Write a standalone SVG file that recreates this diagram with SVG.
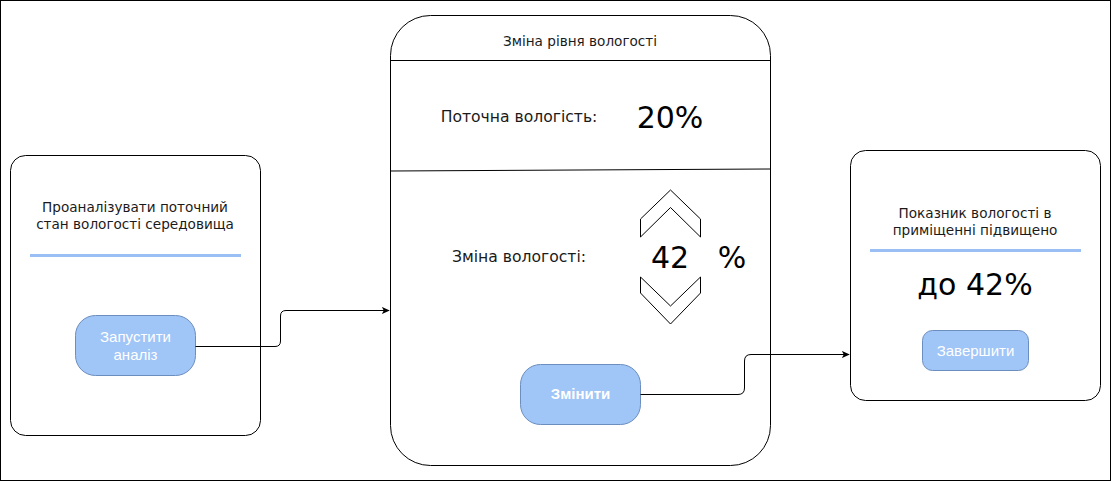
<svg xmlns="http://www.w3.org/2000/svg" width="1111" height="481" viewBox="0 0 1111 481">
<style>
.card{fill:#fff;stroke:#000;stroke-width:1}
.btn{fill:#a0c5f7;stroke:#6c8ebf;stroke-width:1}
.lbl{font-family:"DejaVu Sans",Verdana,sans-serif;fill:#1a1a1a;text-anchor:middle}
.big{font-family:"DejaVu Sans",Verdana,sans-serif;fill:#000;font-size:30px;text-anchor:middle}
.bt{font-family:"Liberation Sans",Arial,sans-serif;fill:#fff;font-size:15px;text-anchor:middle}
.sep{stroke:#99bff5;stroke-width:3}
.conn{fill:none;stroke:#000;stroke-width:1}
.chev{fill:#fff;stroke:#000;stroke-width:1}
</style>
<defs>
<marker id="arr" viewBox="0 0 10 10" refX="9" refY="5" markerWidth="8" markerHeight="8" orient="auto" markerUnits="userSpaceOnUse">
<path d="M0,0.5 L10,5 L0,9.5 L2.5,5 Z" fill="#000"/>
</marker>
</defs>
<rect x="0.5" y="0.5" width="1110" height="480" fill="#fff" stroke="#000"/>
<g id="start-card">
<rect class="card" x="10.5" y="155.5" width="250" height="280" rx="15"/>
<text class="lbl" font-size="13.6" x="135" y="212">Проаналізувати поточний</text>
<text class="lbl" font-size="13.6" x="135" y="229">стан вологості середовища</text>
<line class="sep" x1="30" y1="255.5" x2="241" y2="255.5"/>
</g>
<g id="start-btn">
<rect class="btn" x="75.5" y="315.5" width="120" height="60" rx="20"/>
<text class="bt" x="135.5" y="342">Запустити</text>
<text class="bt" x="135.5" y="360">аналіз</text>
</g>
<g id="main-card">
<rect class="card" x="390.5" y="15.5" width="380" height="450" rx="40"/>
<line x1="390.5" y1="60.5" x2="770.5" y2="60.5" stroke="#000"/>
<line x1="390.5" y1="171" x2="770.5" y2="169" stroke="#000"/>
<text class="lbl" font-size="13.6" x="580" y="46">Зміна рівня вологості</text>
<text class="lbl" font-size="15.6" x="519" y="122">Поточна вологість:</text>
<text class="big" x="670" y="128">20%</text>
<text class="lbl" font-size="15.6" x="519" y="262">Зміна вологості:</text>
<text class="big" x="670" y="268">42</text>
<text class="big" x="732" y="268">%</text>
</g>
<g id="up-chevron">
<polygon class="chev" points="640.5,219 670.5,190 700.5,219 700.5,237 670.5,207.5 640.5,237"/>
</g>
<g id="down-chevron">
<polygon class="chev" points="640.5,277 670.5,306 700.5,277 700.5,293 670.5,324 640.5,293"/>
</g>
<g id="change-btn">
<rect class="btn" x="520.5" y="364.5" width="120" height="60" rx="20"/>
<text class="bt" x="580.5" y="399" font-weight="bold">Змінити</text>
</g>
<g id="result-card">
<rect class="card" x="850.5" y="150.5" width="250" height="250" rx="15"/>
<text class="lbl" font-size="13.6" x="975" y="218">Показник вологості в</text>
<text class="lbl" font-size="13.6" x="975" y="235">приміщенні підвищено</text>
<line class="sep" x1="870" y1="250.5" x2="1081" y2="250.5"/>
<text class="big" x="975" y="295">до 42%</text>
</g>
<g id="finish-btn">
<rect class="btn" x="922.5" y="330.5" width="106" height="40" rx="10"/>
<text class="bt" x="975.5" y="356">Завершити</text>
</g>
<g id="connectors">
<path class="conn" d="M195.5,346.5 H275 Q280.5,346.5 280.5,341 V316 Q280.5,310.5 286,310.5 H389" marker-end="url(#arr)"/>
<path class="conn" d="M640.5,394.5 H738 Q744.5,394.5 744.5,388 V361 Q744.5,354.5 751,354.5 H849" marker-end="url(#arr)"/>
</g>
</svg>
